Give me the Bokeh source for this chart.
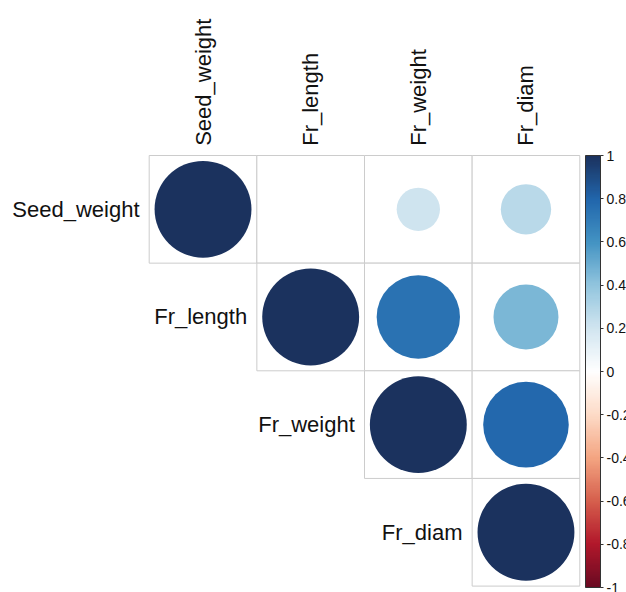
import numpy as np
from math import pi
from bokeh.plotting import figure
from bokeh.models import (ColumnDataSource, Range1d, ColorBar, LinearColorMapper,
                          FixedTicker, CustomJSTickFormatter)
from bokeh.core.properties import value
from bokeh.transform import linear_cmap
from bokeh.embed import file_html
from bokeh.resources import INLINE

# ---- data ----
variables = ["Seed_weight", "Fr_length", "Fr_weight", "Fr_diam"]
row_var = ["Seed_weight", "Seed_weight", "Seed_weight", "Seed_weight",
           "Fr_length", "Fr_length", "Fr_length",
           "Fr_weight", "Fr_weight",
           "Fr_diam"]
col_var = ["Seed_weight", "Fr_length", "Fr_weight", "Fr_diam",
           "Fr_length", "Fr_weight", "Fr_diam",
           "Fr_weight", "Fr_diam",
           "Fr_diam"]
corr = [1.00, 0.00, 0.20, 0.27,
        1.00, 0.74, 0.45,
        1.00, 0.78,
        1.00]
cb_ticks = [-1, -0.8, -0.6, -0.4, -0.2, 0, 0.2, 0.4, 0.6, 0.8, 1]

# ---- palette (corrplot-style RdBu, 200 colours) ----
anchors = ["#6A0A22", "#B2182B", "#D6604D", "#F4A582", "#FDDBC7", "#FFFFFF",
           "#D1E5F0", "#92C5DE", "#4393C3", "#2166AC", "#1B325E"]
rgb = np.array([[int(h[i:i + 2], 16) for i in (1, 3, 5)] for h in anchors], float)
pos = np.linspace(0, 1, len(anchors))
t = np.linspace(0, 1, 200)
palette = []
for tt in t:
    c = [int(round(np.interp(tt, pos, rgb[:, k]))) for k in range(3)]
    palette.append("#%02x%02x%02x" % tuple(c))

idx = {v: i for i, v in enumerate(variables)}
src = ColumnDataSource(dict(
    x=[idx[c] + 0.5 for c in col_var],
    y=[idx[r] + 0.5 for r in row_var],
    r=corr,
    rad=[0.45 * np.sqrt(abs(v)) for v in corr],
))

cell = 107.65
x0, y0 = 148.7, 155.0
W, H = 626, 592
p = figure(width=W, height=H, output_backend="svg", toolbar_location=None,
           x_range=Range1d(-x0 / cell, (W - x0) / cell),
           y_range=Range1d((H - y0) / cell, -y0 / cell),
           x_axis_location=None, y_axis_location=None,
           min_border=0, outline_line_color=None)
p.grid.visible = False

p.rect(x="x", y="y", width=1, height=1, source=src, fill_color="white",
       line_color="#cccccc", line_width=1)
p.circle(x="x", y="y", radius="rad", source=src,
         fill_color=linear_cmap("r", palette, -1, 1), line_color=None)

lab = ColumnDataSource(dict(
    xr=[i - 0.09 for i in range(len(variables))],
    yr=[i + 0.5 for i in range(len(variables))],
    xc=[i + 0.5 for i in range(len(variables))],
    yc=[-0.09 for _ in variables],
    name=variables,
))
p.text(x="xr", y="yr", text="name", source=lab, text_font=value("Liberation Sans"),
       text_font_size="22px", text_align="right", text_baseline="middle",
       text_color="#111111")
p.text(x="xc", y="yc", text="name", source=lab, text_font=value("Liberation Sans"),
       text_font_size="22px", text_align="left", text_baseline="middle",
       angle=pi / 2, text_color="#111111")

mapper = LinearColorMapper(palette=palette, low=-1, high=1)
cb = ColorBar(color_mapper=mapper, ticker=FixedTicker(ticks=cb_ticks),
              formatter=CustomJSTickFormatter(code="return String(Math.round(tick*10)/10)"),
              width=15, height=432, location=(585, 5), padding=0, margin=0,
              bar_line_color="#333333", bar_line_width=1,
              major_tick_in=0, major_tick_out=3, major_tick_line_color="#333333",
              minor_tick_line_color=None,
              major_label_text_font="Liberation Sans", major_label_text_font_size="14px",
              major_label_text_color="#111111", major_label_text_align="center",
              label_standoff=3,
              background_fill_color=None, border_line_color=None)
p.add_layout(cb, "center")

open("out.html", "w").write(file_html(p, INLINE))
